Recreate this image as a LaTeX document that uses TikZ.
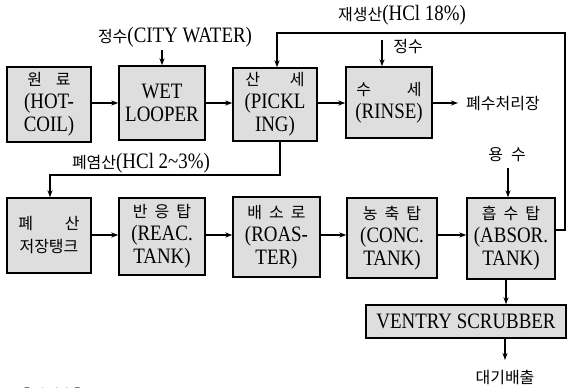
\documentclass[tikz,border=0pt]{standalone}
\usepackage{fontspec}
\setmainfont{Liberation Serif}[FakeStretch=0.86]
\newfontfamily\krfont{Noto Sans CJK KR}
\newcommand\kr[1]{{\krfont\fontsize{16}{23}\selectfont #1}}
\usetikzlibrary{arrows.meta}
\begin{document}
\begin{tikzpicture}[x=1pt,y=-1pt,
 box/.style={draw=black,line width=1.4pt,fill=black!13,inner sep=0pt,align=center,
   font=\fontsize{22}{23}\selectfont},
 arr/.style={line width=1.1pt,-{Stealth[length=7pt,width=5pt]}},
 lbl/.style={font=\fontsize{22}{23}\selectfont, inner sep=0pt}]
\useasboundingbox (0,0) rectangle (568,388);
% row 1
\node[box,minimum width=84pt,minimum height=75pt] (raw) at (49,104.5) {\kr{원\hspace{14pt}료}\\(HOT-\\COIL)};
\node[box,minimum width=86pt,minimum height=74pt] (wet) at (162,103) {WET\\LOOPER};
\node[box,minimum width=84pt,minimum height=73pt] (pick) at (275,104.5) {\kr{산\hspace{30pt}세}\\(PICKL\\ING)};
\node[box,minimum width=86pt,minimum height=71pt] (rinse) at (389,102.5) {\kr{수\hspace{36pt}세}\\(RINSE)};
% row 2
\node[box,minimum width=84pt,minimum height=75pt] (waste) at (49,235.5) {\kr{폐\hspace{32pt}산}\\\kr{저장탱크}};
\node[box,minimum width=86pt,minimum height=77pt] (reac) at (162,236.5) {\kr{반\hspace{7pt}응\hspace{7pt}탑}\\(REAC.\\TANK)};
\node[box,minimum width=87pt,minimum height=80pt] (roast) at (276.5,237) {\kr{배\hspace{7pt}소\hspace{7pt}로}\\(ROAS-\\TER)};
\node[box,minimum width=90pt,minimum height=80pt] (conc) at (392,238) {\kr{농\hspace{7pt}축\hspace{7pt}탑}\\(CONC.\\TANK)};
\node[box,minimum width=88pt,minimum height=81pt] (absor) at (511,238.5) {\kr{흡\hspace{7pt}수\hspace{7pt}탑}\\(ABSOR.\\TANK)};
\node[box,minimum width=200pt,minimum height=33pt] (ventry) at (466,321.5) {VENTRY SCRUBBER};
% labels
\node[lbl] (lcity) at (175,37) {\kr{정수}(CITY WATER)};
\node[lbl] (lregen) at (402,15) {\kr{재생산}(HCl 18\%)};
\node[lbl] (lwater) at (408,47) {\kr{정수}};
\node[lbl] (lwaste) at (141,163) {\kr{폐염산}(HCl 2\textasciitilde3\%)};
\node[lbl] (lout) at (503,104) {\kr{폐수처리장}};
\node[lbl] (luse) at (507,155) {\kr{용\hspace{8pt}수}};
\node[lbl] (lair) at (505,377) {\kr{대기배출}};
\node[lbl,anchor=west] (lnote) at (14,395) {\kr{【예시출】}};
% coordinates
\coordinate (cw) at (162,50);
\coordinate (rw) at (382,40);
\coordinate (ow) at (458,103);
\coordinate (uw) at (508,168);
\coordinate (aw) at (505,360);
\coordinate (tr) at (565,33);
\coordinate (br) at (565,230);
\coordinate (wl) at (50,175);
% row 1 arrows
\draw[arr] (raw.east |- 0,103) -- (wet.west |- 0,103);
\draw[arr] (wet.east |- 0,103) -- (pick.west |- 0,103);
\draw[arr] (pick.east |- 0,103) -- (rinse.west |- 0,103);
\draw[arr] (rinse.east |- ow) -- (ow);
\draw[arr] (cw) -- (wet.north);
\draw[arr] (rw) -- (rw |- rinse.north);
% row 2 arrows
\draw[arr] (waste.east |- 0,235) -- (reac.west |- 0,235);
\draw[arr] (reac.east |- 0,235) -- (roast.west |- 0,235);
\draw[arr] (roast.east |- 0,235) -- (conc.west |- 0,235);
\draw[arr] (conc.east |- 0,235) -- (absor.west |- 0,235);
\draw[arr] (uw) -- (uw |- absor.north);
\draw[arr] (absor.south -| 506,0) -- (506,0 |- ventry.north);
\draw[arr] (ventry.south -| aw) -- (aw);
% recycle and waste acid lines
\draw[arr] (br -| absor.east) -- (br) -- (tr) -- (tr -| 277,0) -- (277,0 |- pick.north);
\draw[arr] (pick.south -| 280,0) -- (280,0 |- wl) -- (wl) -- (wl |- waste.north);
\end{tikzpicture}
\end{document}
